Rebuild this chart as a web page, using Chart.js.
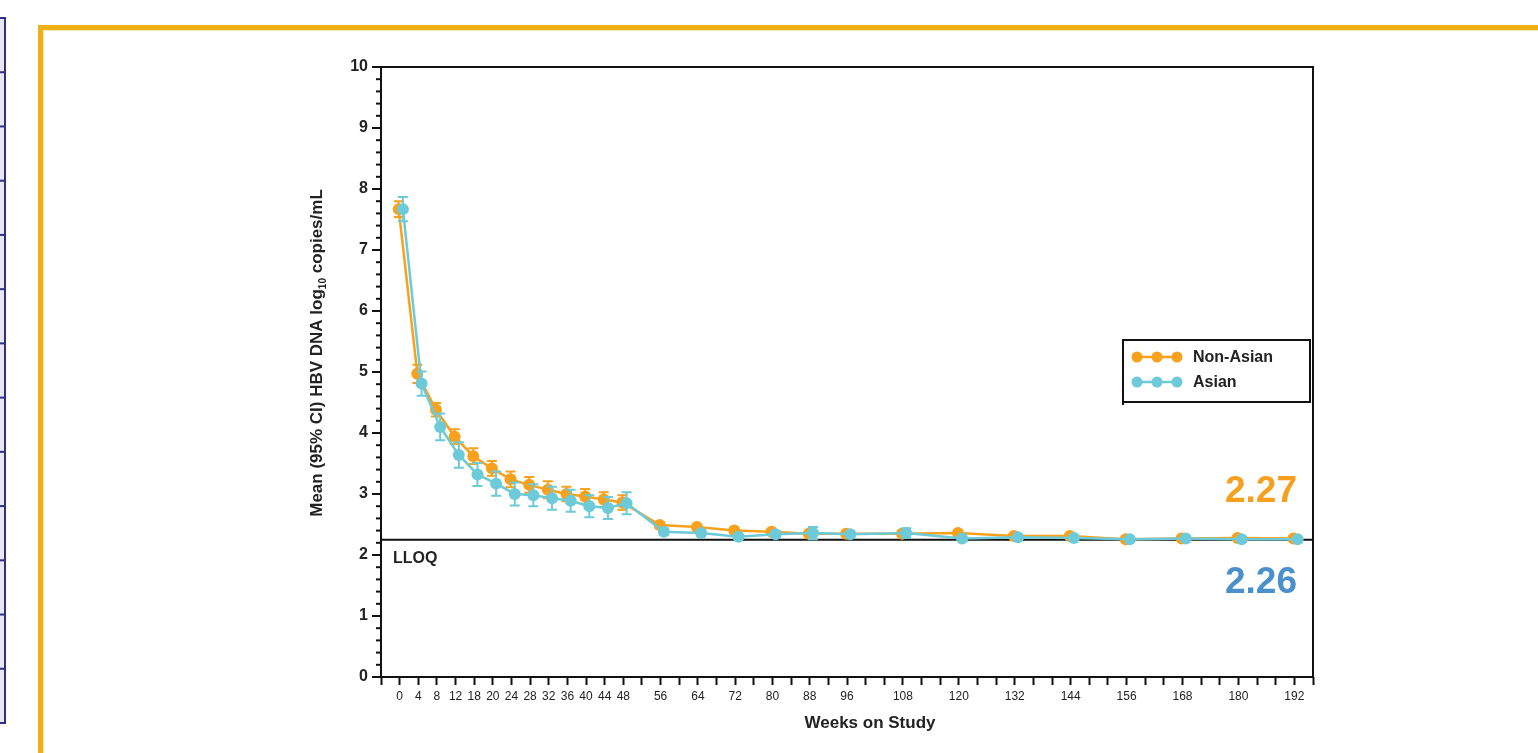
<!DOCTYPE html>
<html lang="en">
<head>
    <meta charset="UTF-8">
    <title>HBV DNA over time by race</title>
    <script src="https://cdn.jsdelivr.net/npm/chart.js"></script>
    <style>
        body { margin: 0; background: #fff; }
        #wrap { width: 1538px; height: 753px; position: relative; }
    </style>
</head>
<body>
    <div id="wrap"><canvas id="hbvChart"></canvas></div>
    <script>
        // weeks on study (x values)
        var weeks = [0, 4, 8, 12, 16, 20, 24, 28, 32, 36, 40, 44, 48, 56, 64, 72, 80, 88, 96, 108, 120, 132, 144, 156, 168, 180, 192];
        // tick labels as printed on the axis (the 16 week tick reads "18" in the original)
        var tickWeeks = [0, 4, 8, 12, 16, 20, 24, 28, 32, 36, 40, 44, 48, 56, 64, 72, 80, 88, 96, 108, 120, 132, 144, 156, 168, 180, 192];
        var tickLabels = ['0', '4', '8', '12', '18', '20', '24', '28', '32', '36', '40', '44', '48', '56', '64', '72', '80', '88', '96', '108', '120', '132', '144', '156', '168', '180', '192'];

        var nonAsianMean = [7.67, 4.97, 4.38, 3.94, 3.62, 3.42, 3.24, 3.15, 3.07, 3.00, 2.96, 2.91, 2.86, 2.49, 2.46, 2.40, 2.38, 2.35, 2.35, 2.35, 2.36, 2.31, 2.31, 2.26, 2.27, 2.28, 2.27];
        var nonAsianCI = [0.13, 0.15, 0.11, 0.12, 0.13, 0.12, 0.13, 0.13, 0.14, 0.12, 0.12, 0.12, 0.12, 0.05, 0.05, 0.04, 0.04, 0.04, 0.04, 0.04, 0.04, 0.03, 0.03, 0.03, 0.03, 0.03, 0.03];
        var asianMean = [7.67, 4.81, 4.10, 3.64, 3.32, 3.17, 3.00, 2.98, 2.93, 2.89, 2.80, 2.77, 2.85, 2.38, 2.36, 2.30, 2.34, 2.36, 2.34, 2.36, 2.27, 2.29, 2.28, 2.26, 2.27, 2.26, 2.26];
        var asianCI = [0.20, 0.20, 0.22, 0.21, 0.19, 0.20, 0.19, 0.18, 0.19, 0.18, 0.18, 0.18, 0.18, 0.05, 0.05, 0.04, 0.05, 0.10, 0.05, 0.08, 0.04, 0.04, 0.04, 0.03, 0.03, 0.03, 0.03];

        var lloq = 2.25;

        var ORANGE = '#F8A11C';
        var BLUE = '#6DCAD9';
        var FONT = "'Liberation Sans', Arial, sans-serif";

        function makePoints(means, shift) {
            // small horizontal dodge so the two series don't sit exactly on top of each other
            return weeks.map(function (w, i) { return { x: w + shift, y: means[i] }; });
        }

        // order: Asian (0) is painted over Non-Asian (1)
        var datasets = [
            { label: 'Non-Asian', data: makePoints(nonAsianMean, -0.2), ci: nonAsianCI, borderColor: ORANGE, backgroundColor: ORANGE, order: 1 },
            { label: 'Asian', data: makePoints(asianMean, 0.7), ci: asianCI, borderColor: BLUE, backgroundColor: BLUE, order: 0 }
        ];
        datasets.forEach(function (ds) {
            ds.borderWidth = 2.5;
            ds.pointRadius = 6;
            ds.pointHoverRadius = 6;
            ds.pointBorderWidth = 0;
            ds.pointBackgroundColor = ds.borderColor;
            ds.tension = 0;
        });

        function isWhole(v) { return Math.abs(v - Math.round(v)) < 1e-6; }

        // page decorations: table edge on the left and the gold frame
        var decorations = {
            id: 'decorations',
            beforeDraw: function (chart) {
                var ctx = chart.ctx;
                ctx.save();
                ctx.fillStyle = '#fff';
                ctx.fillRect(0, 0, chart.width, chart.height);
                // left table strip
                ctx.fillStyle = '#E7E6F1';
                ctx.fillRect(0, 18, 5, 705);
                ctx.strokeStyle = '#2F2F86';
                ctx.lineWidth = 2;
                ctx.strokeRect(-2, 18, 7, 705);
                for (var r = 1; r < 13; r++) {
                    var yy = 18 + r * 705 / 13;
                    ctx.beginPath(); ctx.moveTo(0, yy); ctx.lineTo(5, yy); ctx.stroke();
                }
                // gold frame
                ctx.fillStyle = '#EEB012';
                ctx.fillRect(38, 25, 1500, 5);
                ctx.fillRect(38, 25, 5, 728);
                ctx.fillStyle = '#F9E7B4';
                ctx.fillRect(43, 30, 1495, 1);
                ctx.fillRect(43, 30, 1, 723);
                ctx.restore();
            }
        };

        var plotExtras = {
            id: 'plotExtras',
            beforeDatasetsDraw: function (chart) {
                var ctx = chart.ctx, a = chart.chartArea, y = chart.scales.y;
                var ly = y.getPixelForValue(lloq);
                ctx.save();
                ctx.strokeStyle = '#111';
                ctx.lineWidth = 2;
                ctx.beginPath(); ctx.moveTo(a.left, ly); ctx.lineTo(a.right, ly); ctx.stroke();
                ctx.fillStyle = '#222';
                ctx.font = 'bold 16px ' + FONT;
                ctx.textBaseline = 'alphabetic';
                ctx.textAlign = 'left';
                ctx.fillText('LLOQ', a.left + 12, ly + 23);
                ctx.restore();
            },
            beforeDatasetDraw: function (chart, args) {
                // 95% CI bars, drawn under each series
                var ctx = chart.ctx, y = chart.scales.y;
                var ds = chart.data.datasets[args.index];
                ctx.save();
                ctx.strokeStyle = ds.borderColor;
                ctx.lineWidth = 2;
                args.meta.data.forEach(function (pt, i) {
                    var m = ds.data[i].y, e = ds.ci[i];
                    var top = y.getPixelForValue(m + e), bot = y.getPixelForValue(m - e);
                    ctx.beginPath();
                    ctx.moveTo(pt.x, top); ctx.lineTo(pt.x, bot);
                    ctx.moveTo(pt.x - 5, top); ctx.lineTo(pt.x + 5, top);
                    ctx.moveTo(pt.x - 5, bot); ctx.lineTo(pt.x + 5, bot);
                    ctx.stroke();
                });
                ctx.restore();
            },
            afterDraw: function (chart) {
                var ctx = chart.ctx, a = chart.chartArea, y = chart.scales.y;
                ctx.save();
                // frame
                ctx.strokeStyle = '#111';
                ctx.lineWidth = 2;
                ctx.strokeRect(a.left, a.top, a.right - a.left, a.bottom - a.top);
                // y tick marks, major every 1, minor every 0.2
                y.ticks.forEach(function (t) {
                    var py = y.getPixelForValue(t.value);
                    var len = isWhole(t.value) ? 9 : 5;
                    ctx.beginPath(); ctx.moveTo(a.left - len, py); ctx.lineTo(a.left, py); ctx.stroke();
                });

                // axis titles
                ctx.fillStyle = '#222';
                ctx.font = 'bold 17px ' + FONT;
                ctx.textAlign = 'center';
                ctx.textBaseline = 'middle';
                ctx.fillText('Weeks on Study', 870, 723);

                ctx.save();
                ctx.translate(316, 353);
                ctx.rotate(-Math.PI / 2);
                var p1 = 'Mean (95% CI) HBV DNA log', sub = '10', p2 = ' copies/mL';
                ctx.font = 'bold 17px ' + FONT;
                var w1 = ctx.measureText(p1).width, w3 = ctx.measureText(p2).width;
                ctx.font = 'bold 10px ' + FONT;
                var w2 = ctx.measureText(sub).width;
                var x0 = -(w1 + w2 + w3) / 2;
                ctx.textAlign = 'left';
                ctx.textBaseline = 'alphabetic';
                ctx.font = 'bold 17px ' + FONT;
                ctx.fillText(p1, x0, 6);
                ctx.font = 'bold 10px ' + FONT;
                ctx.fillText(sub, x0 + w1, 10);
                ctx.font = 'bold 17px ' + FONT;
                ctx.fillText(p2, x0 + w1 + w2, 6);
                ctx.restore();

                // final values
                var dsets = chart.data.datasets;
                ctx.font = 'bold 37px ' + FONT;
                ctx.textAlign = 'right';
                ctx.textBaseline = 'middle';
                ctx.fillStyle = '#F6A020';
                ctx.fillText(nonAsianMean[nonAsianMean.length - 1].toFixed(2), a.right - 16, y.getPixelForValue(3.04));
                ctx.fillStyle = '#4A90CD';
                ctx.fillText(asianMean[asianMean.length - 1].toFixed(2), a.right - 16, y.getPixelForValue(1.55));

                // legend box
                var bx = 1123, by = 340, bw = 187, bh = 62;
                ctx.strokeStyle = '#111';
                ctx.lineWidth = 2;
                ctx.strokeRect(bx, by, bw, bh);
                ctx.beginPath(); ctx.moveTo(bx, by + bh); ctx.lineTo(bx, by + bh + 3); ctx.stroke();
                dsets.forEach(function (ds, i) {
                    var cy = by + 17 + i * 25;
                    ctx.strokeStyle = ds.borderColor;
                    ctx.fillStyle = ds.borderColor;
                    ctx.lineWidth = 2.5;
                    ctx.beginPath(); ctx.moveTo(bx + 9, cy); ctx.lineTo(bx + 58, cy); ctx.stroke();
                    [14, 34, 54].forEach(function (dx) {
                        ctx.beginPath(); ctx.arc(bx + dx, cy, 5.5, 0, Math.PI * 2); ctx.fill();
                    });
                    ctx.fillStyle = '#222';
                    ctx.font = 'bold 16px ' + FONT;
                    ctx.textAlign = 'left';
                    ctx.textBaseline = 'middle';
                    ctx.fillText(ds.label, bx + 70, cy + 1);
                });
                ctx.restore();
            }
        };

        var ctx = document.getElementById('hbvChart').getContext('2d');
        var hbvChart = new Chart(ctx, {
            type: 'line',
            data: { datasets: datasets },
            plugins: [decorations, plotExtras],
            options: {
                responsive: true,
                maintainAspectRatio: false,
                animation: false,
                layout: { padding: { left: 300, right: 225, top: 67, bottom: 0 } },
                plugins: {
                    legend: { display: false },
                    tooltip: { enabled: false }
                },
                scales: {
                    x: {
                        type: 'linear',
                        min: -4,
                        max: 196,
                        afterFit: function (scale) { scale.height = 76; },
                        grid: { drawOnChartArea: false, drawTicks: true, tickLength: 8, tickColor: '#111', tickWidth: 2 },
                        border: { display: false },
                        ticks: {
                            stepSize: 4,
                            autoSkip: false,
                            maxRotation: 0,
                            padding: 4,
                            color: '#222',
                            font: { family: FONT, size: 12 },
                            callback: function (value) {
                                var idx = tickWeeks.indexOf(value);
                                return idx >= 0 ? tickLabels[idx] : '';
                            }
                        }
                    },
                    y: {
                        min: 0,
                        max: 10,
                        afterFit: function (scale) { scale.width = 81; },
                        grid: { display: false },
                        border: { display: false },
                        ticks: {
                            stepSize: 0.2,
                            autoSkip: false,
                            padding: 5,
                            color: '#222',
                            font: { family: FONT, size: 16, weight: 'bold' },
                            callback: function (value) { return isWhole(value) ? String(Math.round(value)) : ''; }
                        }
                    }
                }
            }
        });
    </script>
</body>
</html>
